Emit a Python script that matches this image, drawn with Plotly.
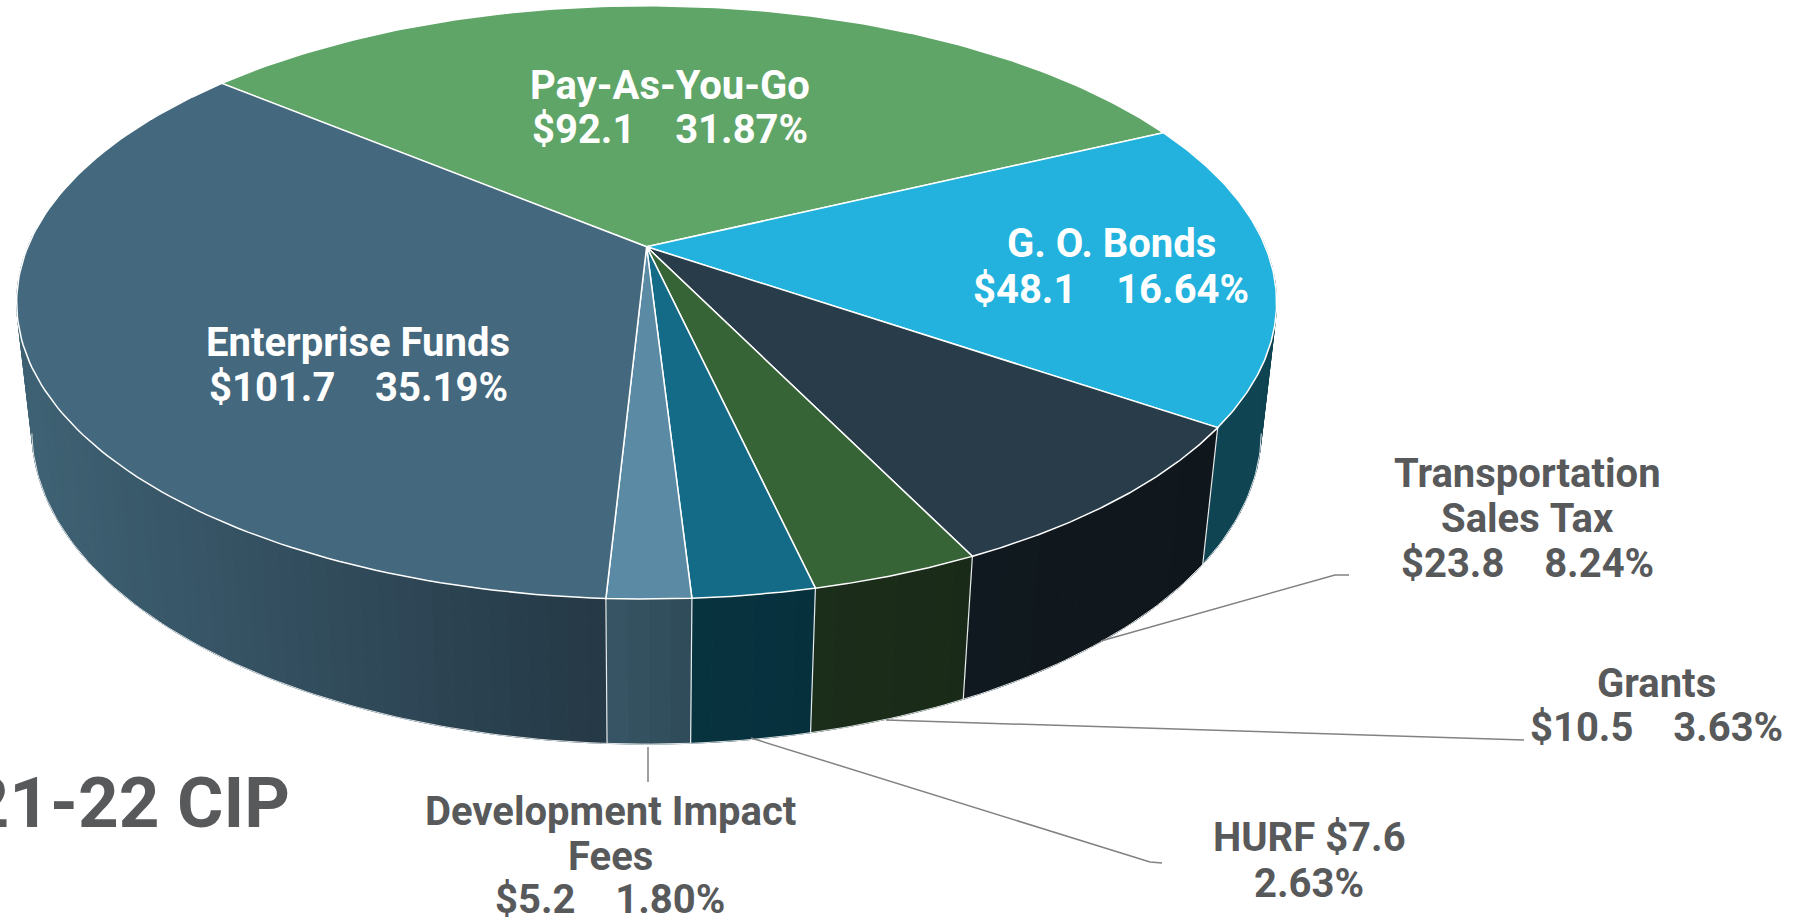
import numpy as np
import plotly.graph_objects as go

# ---- data (millions of dollars, clockwise from the back-left edge) ----
categories = ["Pay-As-You-Go", "G. O. Bonds", "Transportation Sales Tax", "Grants",
              "HURF", "Development Impact Fees", "Enterprise Funds"]
values = [92.1, 48.1, 23.8, 10.5, 7.6, 5.2, 101.7]
percents = ["31.87%", "16.64%", "8.24%", "3.63%", "2.63%", "1.80%", "35.19%"]
top_colors = ["#5FA568", "#22B2DD", "#283C4A", "#376437", "#136B88", "#5B8AA5", "#44687D"]
side_left = ["#4C8454", "#124C5C", "#10191F", "#1B2E1A", "#07333F", "#375564", "#3E6173"]
side_right = ["#4C8454", "#0F4453", "#10171C", "#1A2A18", "#07303D", "#2F4B5A", "#243744"]

# ---- perspective camera of the tilted disc (pixels) ----
CX, CY = 646.6, 246.8
A, B, K = 618.8, 286.2, 0.1875
VY, H = 5408.0, 0.024
START_DEG = -140.25
W, HT = 1817, 923
FONT = "Roboto"
GREY = "#58595B"
SIZE = 40


def project(theta, r=1.0, depth=0.0):
    u, v = r * np.cos(theta), r * np.sin(theta)
    w = 1 - K * v + depth * H
    return CX + A * u / w, CY + (B * v + depth * H * VY) / w


def mix(c1, c2, t):
    a = [int(c1[i:i + 2], 16) for i in (1, 3, 5)]
    b = [int(c2[i:i + 2], 16) for i in (1, 3, 5)]
    return "#%02x%02x%02x" % tuple(round(p + (q - p) * t) for p, q in zip(a, b))


total = sum(values)
edges = np.radians(START_DEG + np.concatenate([[0], np.cumsum(values)]) / total * 360)

fig = go.Figure()


def poly(xs, ys, fill, line=None, width=0.0):
    fig.add_trace(go.Scatter(
        x=list(xs), y=list(ys), mode="lines", fill="toself", fillcolor=fill,
        line=dict(color=line or fill, width=width), hoverinfo="skip", showlegend=False))


# side wall, one narrow strip at a time so the shading can vary along the rim
for i in range(len(values)):
    if categories[i] == "Pay-As-You-Go":
        continue  # entirely behind the top face
    t0, t1 = edges[i], edges[i + 1]
    n = max(2, int((t1 - t0) / np.radians(1.5)))
    grid = np.linspace(t0, t1, n + 1)
    x0 = project(t0)[0]
    x1 = project(t1)[0]
    for a, b in zip(grid[:-1], grid[1:]):
        if np.sin(a) < -0.05 and np.sin(b) < -0.05:
            continue
        xa, ya = project(a)
        xb, yb = project(b)
        xc, yc = project(b, depth=1)
        xd, yd = project(a, depth=1)
        frac = ((xa + xb) / 2 - min(x0, x1)) / (abs(x1 - x0) + 1e-9)
        frac = float(np.clip(frac, 0, 1))
        if categories[i] == "Enterprise Funds":
            frac = float(np.clip(((xa + xb) / 2 - 30) / 590, 0, 1))
        poly([xa, xb, xc, xd, xa], [ya, yb, yc, yd, ya], mix(side_left[i], side_right[i], frac), width=1.0)

# outer rim of the lower edge and seams between the walls
rim = np.linspace(np.radians(11), np.radians(169), 200)
bx, by = project(rim, depth=1)
fig.add_trace(go.Scatter(x=bx, y=by, mode="lines", line=dict(color="#DDE3E6", width=1),
                         hoverinfo="skip", showlegend=False))
for e in edges[:-1]:
    if np.sin(e) > 0:
        p, q = project(e), project(e, depth=1)
        fig.add_trace(go.Scatter(x=[p[0], q[0]], y=[p[1], q[1]], mode="lines",
                                 line=dict(color="#E8ECEE", width=1.2),
                                 hoverinfo="skip", showlegend=False))

# top face
for i in range(len(values)):
    arc = np.linspace(edges[i], edges[i + 1], 120)
    ax, ay = project(arc)
    poly(np.r_[CX, ax, CX], np.r_[CY, ay, CY], top_colors[i], line="#FFFFFF", width=1.5)

# leader lines
leaders = [
    ([1101, 1335, 1349], [641, 575, 575]),
    ([886, 1524], [720, 740]),
    ([751, 1150, 1162], [738, 862, 863]),
    ([648, 648], [747, 782]),
]
for lx, ly in leaders:
    fig.add_trace(go.Scatter(x=lx, y=ly, mode="lines", line=dict(color="#808285", width=1.5),
                             hoverinfo="skip", showlegend=False))

# labels: (text, x, y, colour)
labels = [
    ("Pay-As-You-Go", 670, 85, "white"), ("$92.1    31.87%", 670, 129, "white"),
    ("G. O. Bonds", 1111, 243, "white"), ("$48.1    16.64%", 1111, 289, "white"),
    ("Enterprise Funds", 358, 342, "white"), ("$101.7    35.19%", 358, 387, "white"),
    ("Transportation", 1527, 473, GREY), ("Sales Tax", 1527, 518, GREY), ("$23.8    8.24%", 1527, 563, GREY),
    ("Grants", 1656, 683, GREY), ("$10.5    3.63%", 1656, 727, GREY),
    ("HURF $7.6", 1309, 837, GREY), ("2.63%", 1309, 883, GREY),
    ("Development Impact", 610, 811, GREY), ("Fees", 610, 856, GREY), ("$5.2    1.80%", 610, 899.5, GREY),
]
for text, x, y, col in labels:
    fig.add_annotation(x=x, y=y, text=text.replace(" ", "\u00a0"), showarrow=False,
                       xanchor="center", yanchor="middle",
                       font=dict(family=FONT, size=SIZE, color=col, weight="bold"))
fig.add_annotation(x=292, y=802, text="2021-22 CIP", showarrow=False, xanchor="right", yanchor="middle",
                   font=dict(family=FONT, size=71, color=GREY, weight="bold"))

fig.update_layout(
    width=W, height=HT, margin=dict(l=0, r=0, t=0, b=0),
    paper_bgcolor="white", plot_bgcolor="white", showlegend=False,
    xaxis=dict(range=[0, W], visible=False, fixedrange=True),
    yaxis=dict(range=[HT, 0], visible=False, fixedrange=True),
)
fig.write_html("out.html", config=dict(displayModeBar=False),
               post_script="document.body.style.margin='0';document.body.style.overflow='hidden';")
